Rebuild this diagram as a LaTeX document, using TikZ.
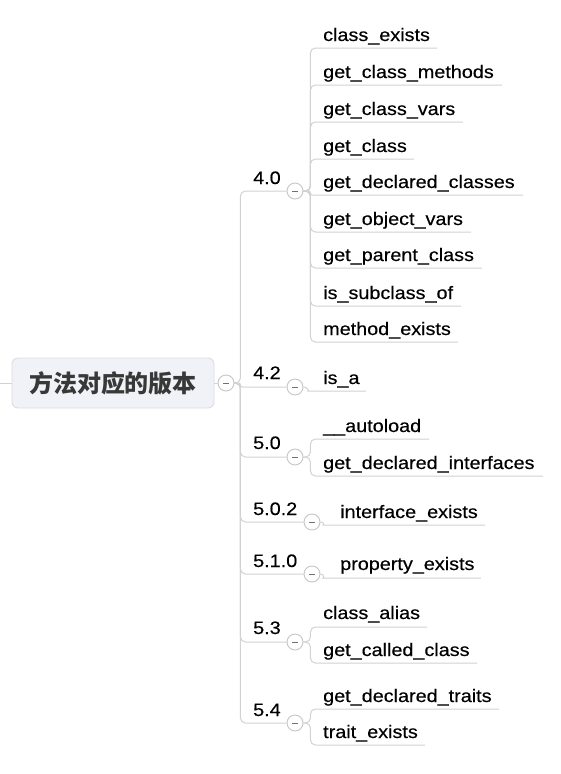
\documentclass[tikz,border=0pt]{standalone}
\usepackage{fontspec}
\setmainfont[FakeStretch=1.1,FakeBold=0.35]{Liberation Sans}
\newfontfamily\cjk{Noto Sans CJK SC}
\definecolor{lin}{HTML}{D2D2D2}
\definecolor{circ}{HTML}{C6C6C6}
\definecolor{minuscol}{HTML}{707070}
\definecolor{rootfill}{HTML}{F1F2F7}
\definecolor{rootdraw}{HTML}{DCDDE2}
\definecolor{txt}{HTML}{000000}
\definecolor{roottxt}{HTML}{383838}
\begin{document}
\begin{tikzpicture}[x=1pt,y=-1pt,
  conn/.style={draw=lin, line width=1pt, rounded corners=5pt},
  tog/.style={circle, draw=circ, fill=white, line width=0.9pt, minimum size=16pt, inner sep=0pt,
    path picture={\draw[minuscol, line width=1pt] ([xshift=-3pt]path picture bounding box.center) -- ([xshift=3pt]path picture bounding box.center);}},
  lbl/.style={anchor=base west, inner sep=0pt, text=txt, font=\fontsize{18}{20}\selectfont},
  rootbox/.style={draw=rootdraw, fill=rootfill, rounded corners=6pt, line width=0.9pt,
    minimum width=202pt, minimum height=50pt, inner sep=0pt, text=roottxt,
    font=\cjk\bfseries\fontsize{24}{26}\selectfont},
]
\useasboundingbox[fill=white] (0,0) rectangle (560,774);

% root
\node[rootbox] (root) at (113,383) {方法对应的版本};
\node[tog] (groot) at (226,383) {};
\coordinate (stub) at (0,383);
\draw[conn] (stub) -- (root.west);
\draw[conn] (root.east) -- (groot.west);

% main branch toggles
\node[tog] (g40) at (295,191) {};
\node[tog] (g42) at (295,387) {};
\node[tog] (g50) at (295,457) {};
\node[tog] (g502) at (312,522) {};
\node[tog] (g510) at (312,574) {};
\node[tog] (g53) at (295,642) {};
\node[tog] (g54) at (295,723) {};

% main branch labels
\node[lbl] (v40) at (253,184) {4.0};
\node[lbl] (v42) at (253,379) {4.2};
\node[lbl] (v50) at (253,449) {5.0};
\node[lbl] (v502) at (253,515) {5.0.2};
\node[lbl] (v510) at (253,567) {5.1.0};
\node[lbl] (v53) at (253,634) {5.3};
\node[lbl] (v54) at (253,716) {5.4};

% main connectors
\draw[conn] (groot.east) -- ++(6,0) |- (g40.west);
\draw[conn, rounded corners=2pt] (groot.east) -- ++(6,0) |- (g42.west);
\draw[conn] (groot.east) -- ++(6,0) |- (g50.west);
\draw[conn] (groot.east) -- ++(6,0) |- (g502.west);
\draw[conn] (groot.east) -- ++(6,0) |- (g510.west);
\draw[conn] (groot.east) -- ++(6,0) |- (g53.west);
\draw[conn] (groot.east) -- ++(6,0) |- (g54.west);

% 4.0 children
\node[lbl] (c1) at (323,41) {class\_exists};
\node[lbl] (c2) at (323,78) {get\_class\_methods};
\node[lbl] (c3) at (323,115) {get\_class\_vars};
\node[lbl] (c4) at (323,152) {get\_class};
\node[lbl] (c5) at (323,188) {get\_declared\_classes};
\node[lbl] (c6) at (323,225) {get\_object\_vars};
\node[lbl] (c7) at (323,261) {get\_parent\_class};
\node[lbl] (c8) at (323,299) {is\_subclass\_of};
\node[lbl] (c9) at (323,335) {method\_exists};
\coordinate (e1) at (437,48);
\coordinate (e2) at (502,85);
\coordinate (e3) at (463,122);
\coordinate (e4) at (414,159);
\coordinate (e5) at (523,195);
\coordinate (e6) at (471,232);
\coordinate (e7) at (482,268);
\coordinate (e8) at (461,306);
\coordinate (e9) at (458,342);
\foreach \e in {e1,e2,e3,e4,e6,e7,e8,e9}{
  \draw[conn] (g40.east) -- ++(7,0) |- (\e);
}
\draw[conn, rounded corners=2pt] (g40.east) -- ++(7,0) |- (e5);

% 4.2 child
\node[lbl] (c10) at (323,384) {is\_a};
\coordinate (k42) at (313,391);
\coordinate (e10) at (366,391);
\draw[conn] (g42.east) to[out=0,in=180] (k42) -- (e10);

% 5.0 children
\node[lbl] (c11) at (323,432) {\_\_autoload};
\node[lbl] (c12) at (323,469) {get\_declared\_interfaces};
\coordinate (e11) at (429,439);
\coordinate (e12) at (543,476);
\draw[conn] (g50.east) -- ++(7,0) |- (e11);
\draw[conn] (g50.east) -- ++(7,0) |- (e12);

% 5.0.2 child
\node[lbl] (c13) at (340,518) {interface\_exists};
\coordinate (k502) at (328,525);
\coordinate (e13) at (485,525);
\draw[conn] (g502.east) to[out=0,in=180] (k502) -- (e13);

% 5.1.0 child
\node[lbl] (c14) at (340,570) {property\_exists};
\coordinate (k510) at (328,578);
\coordinate (e14) at (481,578);
\draw[conn] (g510.east) to[out=0,in=180] (k510) -- (e14);

% 5.3 children
\node[lbl] (c15) at (323,619) {class\_alias};
\node[lbl] (c16) at (323,656) {get\_called\_class};
\coordinate (e15) at (427,627);
\coordinate (e16) at (477,663);
\draw[conn] (g53.east) -- ++(7,0) |- (e15);
\draw[conn] (g53.east) -- ++(7,0) |- (e16);

% 5.4 children
\node[lbl] (c17) at (323,702) {get\_declared\_traits};
\node[lbl] (c18) at (323,738) {trait\_exists};
\coordinate (e17) at (499,709);
\coordinate (e18) at (425,745);
\draw[conn] (g54.east) -- ++(7,0) |- (e17);
\draw[conn] (g54.east) -- ++(7,0) |- (e18);
\end{tikzpicture}
\end{document}
